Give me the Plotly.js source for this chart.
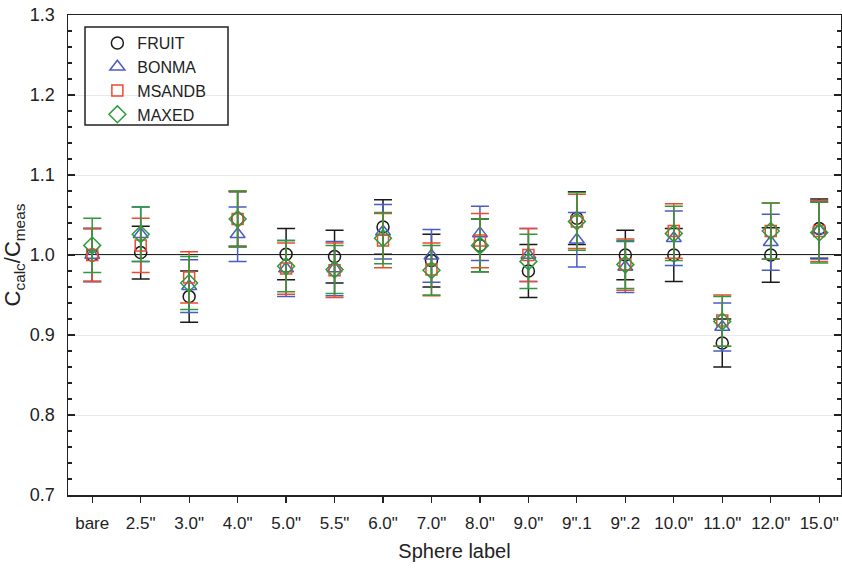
<!DOCTYPE html>
<html>
<head>
<meta charset="utf-8">
<script src="https://cdn.plot.ly/plotly-3.0.1.min.js"></script>
<style>html,body{margin:0;padding:0;background:#fff;}#chart{width:842px;height:568px;}</style>
</head>
<body>
<div id="chart"></div>
<script>
const categories = ['bare','2.5"','3.0"','4.0"','5.0"','5.5"','6.0"','7.0"','8.0"','9.0"','9".1','9".2','10.0"','11.0"','12.0"','15.0"'];

const fruitVals   = [1.000, 1.003, 0.948, 1.045, 1.001, 0.998, 1.035, 0.993, 1.012, 0.980, 1.046, 1.000, 1.000, 0.890, 1.000, 1.033];
const fruitErr    = [0.033, 0.033, 0.032, 0.034, 0.032, 0.033, 0.034, 0.033, 0.033, 0.033, 0.033, 0.031, 0.033, 0.030, 0.034, 0.037];
const bonmaVals   = [1.000, 1.026, 0.961, 1.026, 0.983, 0.983, 1.029, 0.999, 1.027, 1.000, 1.019, 0.985, 1.021, 0.910, 1.016, 1.031];
const bonmaErr    = [0.033, 0.034, 0.033, 0.034, 0.035, 0.034, 0.034, 0.033, 0.034, 0.033, 0.034, 0.032, 0.034, 0.030, 0.035, 0.036];
const msandbVals  = [1.000, 1.012, 0.972, 1.045, 0.983, 0.981, 1.018, 0.982, 1.018, 1.000, 1.042, 0.988, 1.030, 0.918, 1.030, 1.030];
const msandbErr   = [0.033, 0.034, 0.032, 0.035, 0.032, 0.034, 0.034, 0.033, 0.034, 0.033, 0.034, 0.032, 0.034, 0.032, 0.035, 0.038];
const maxedVals   = [1.012, 1.026, 0.965, 1.045, 0.986, 0.982, 1.021, 0.981, 1.012, 0.992, 1.042, 0.988, 1.027, 0.917, 1.030, 1.028];
const maxedErr    = [0.034, 0.034, 0.033, 0.035, 0.032, 0.030, 0.032, 0.031, 0.033, 0.034, 0.036, 0.030, 0.034, 0.031, 0.035, 0.038];

const seriesNames = ['FRUIT', 'BONMA', 'MSANDB', 'MAXED'];
const seriesColors = ['#1a1a1a', '#4a5cc4', '#ee4a2e', '#2f9a3c'];
const seriesSymbols = ['circle-open', 'triangle-up-open', 'square-open', 'diamond-open'];
const seriesSizes = [12, 13, 11, 13];
const seriesVals = [fruitVals, bonmaVals, msandbVals, maxedVals];
const seriesErrs = [fruitErr, bonmaErr, msandbErr, maxedErr];

const traces = seriesNames.map((name, i) => ({
  type: 'scatter',
  mode: 'markers',
  name: name,
  x: categories,
  y: seriesVals[i],
  error_y: {type: 'data', array: seriesErrs[i], visible: true, color: seriesColors[i], thickness: 1.5, width: 9},
  marker: {symbol: seriesSymbols[i], size: seriesSizes[i], color: seriesColors[i], line: {color: seriesColors[i], width: 1.5}}
}));

const fontFam = 'Liberation Sans, Arial, sans-serif';
const layout = {
  width: 842, height: 568,
  margin: {l: 68, r: 1, t: 15, b: 73},
  paper_bgcolor: '#fff', plot_bgcolor: '#fff',
  font: {family: fontFam, color: '#222'},
  showlegend: true,
  legend: {x: 0.038, y: 0.977, xanchor: 'left', yanchor: 'top', bgcolor: 'rgba(0,0,0,0)', borderwidth: 0,
           font: {size: 16, family: fontFam, color: '#222'}},
  xaxis: {
    type: 'category', range: [-0.5, 15.45],
    showline: true, linecolor: '#222', linewidth: 1.5, mirror: true,
    ticks: 'outside', ticklen: 6, tickcolor: '#222', tickwidth: 1.2,
    ticklabelstandoff: 6,
    showgrid: false, zeroline: false,
    tickfont: {size: 17, family: fontFam, color: '#222'},
    title: {text: 'Sphere label', font: {size: 20, family: fontFam, color: '#222'}, standoff: 12}
  },
  yaxis: {
    range: [0.7, 1.3], dtick: 0.1, tickformat: '.1f',
    showline: true, linecolor: '#222', linewidth: 1.5, mirror: 'ticks',
    ticks: 'inside', ticklen: 7, tickcolor: '#222', tickwidth: 1.2,
    ticklabelstandoff: 8,
    minor: {dtick: 0.02, ticks: 'inside', ticklen: 4, tickcolor: '#222', showgrid: false},
    showgrid: true, gridcolor: '#e8e8e8', gridwidth: 1, zeroline: false,
    tickfont: {size: 18, family: fontFam, color: '#222'},
    title: {text: 'C<sub>calc</sub>/C<sub>meas</sub>', font: {size: 22, family: fontFam, color: '#222'}, standoff: 6}
  },
  shapes: [
    {type: 'line', xref: 'paper', yref: 'y', x0: 0, x1: 1, y0: 1.0, y1: 1.0, line: {color: '#222', width: 2}, layer: 'below'},
    {type: 'rect', xref: 'paper', yref: 'paper', x0: 0.022, x1: 0.207, y0: 0.771, y1: 0.975, line: {color: '#222', width: 1.5}, fillcolor: 'rgba(0,0,0,0)'}
  ]
};

Plotly.newPlot('chart', traces, layout, {displayModeBar: false, staticPlot: true});
</script>
</body>
</html>
